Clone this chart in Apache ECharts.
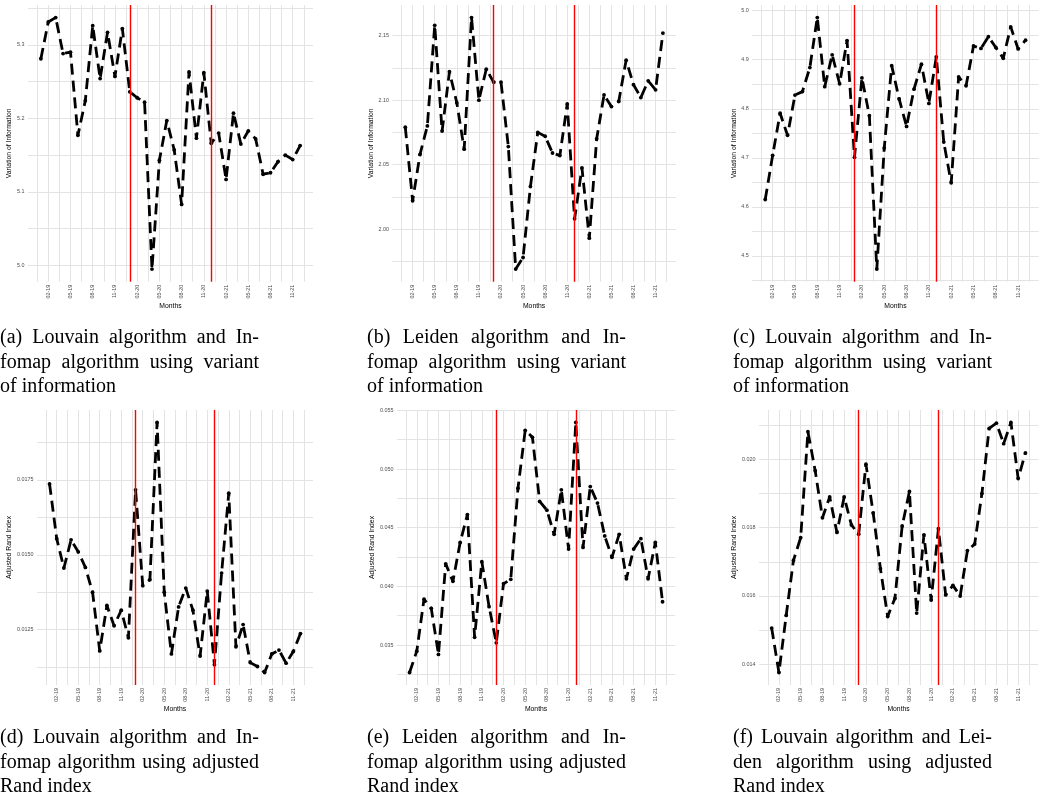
<!DOCTYPE html>
<html>
<head>
<meta charset="utf-8">
<script src="https://cdn.jsdelivr.net/npm/echarts@6/dist/echarts.min.js"></script>
<style>html,body{margin:0;padding:0;background:#fff}#chart{width:1043px;height:809px}</style>
</head>
<body>
<div id="chart"></div>
<script>
// ---------- data ----------
const months = ['2019-01','2019-02','2019-03','2019-04','2019-05','2019-06','2019-07','2019-08','2019-09','2019-10','2019-11','2019-12',
                '2020-01','2020-02','2020-03','2020-04','2020-05','2020-06','2020-07','2020-08','2020-09','2020-10','2020-11','2020-12',
                '2021-01','2021-02','2021-03','2021-04','2021-05','2021-06','2021-07','2021-08','2021-09','2021-10','2021-11','2021-12'];
const tickLabels = ['02-19','05-19','08-19','11-19','02-20','05-20','08-20','11-20','02-21','05-21','08-21','11-21'];
const breakMonths = ['2020-01','2020-12'];

const viLouvainInfomap = [5.281, 5.331, 5.337, 5.288, 5.290, 5.177, 5.224, 5.326, 5.254, 5.317,
  5.257, 5.322, 5.236, 5.228, 5.222, 4.995, 5.143, 5.197, 5.157, 5.083,
  5.263, 5.173, 5.262, 5.166, 5.180, 5.117, 5.207, 5.165, 5.183, 5.172,
  5.124, 5.126, 5.141, 5.150, 5.144, 5.163];
const viLeidenInfomap = [2.079, 2.022, 2.058, 2.080, 2.158, 2.076, 2.122, 2.098, 2.062, 2.164,
  2.100, 2.124, 2.114, 2.114, 2.064, 1.969, 1.978, 2.033, 2.075, 2.072,
  2.059, 2.057, 2.097, 2.008, 2.0475, 1.993, 2.070, 2.104, 2.095, 2.099,
  2.131, 2.112, 2.102, 2.115, 2.108, 2.152];
const viLouvainInfomapC = [4.615, 4.705, 4.791, 4.746, 4.828, 4.835, 4.884, 4.986, 4.845, 4.910,
  4.851, 4.939, 4.701, 4.863, 4.786, 4.473, 4.720, 4.888, 4.820, 4.764,
  4.840, 4.891, 4.811, 4.906, 4.732, 4.649, 4.865, 4.847, 4.928, 4.923,
  4.947, 4.925, 4.903, 4.967, 4.922, 4.940];
const ariLouvainInfomap = [0.01737, 0.01554, 0.01456, 0.01550, 0.01510, 0.01458, 0.01375, 0.01179, 0.01331, 0.01263,
  0.01315, 0.01223, 0.01717, 0.01397, 0.01417, 0.01942, 0.01375, 0.01169, 0.01326, 0.01389,
  0.01315, 0.01162, 0.01379, 0.01133, 0.01439, 0.01706, 0.01193, 0.01267, 0.01140, 0.01127,
  0.01107, 0.01169, 0.01182, 0.01138, 0.01177, 0.01237];
const ariLeidenInfomap = [0.03266, 0.03448, 0.03891, 0.03813, 0.03420, 0.04192, 0.04043, 0.04374, 0.04612, 0.03566,
  0.04211, 0.03827, 0.03519, 0.04023, 0.04060, 0.04837, 0.05330, 0.05271, 0.04724, 0.04650,
  0.04444, 0.04823, 0.04318, 0.05397, 0.04332, 0.04851, 0.04710, 0.04430, 0.04248, 0.04444,
  0.04065, 0.04318, 0.04407, 0.04065, 0.04374, 0.03869];
const ariLouvainLeiden = [0.01506, 0.01376, 0.01543, 0.01704, 0.01771, 0.02081, 0.01967, 0.01829, 0.01890, 0.01786,
  0.01890, 0.01808, 0.01781, 0.01986, 0.01843, 0.01680, 0.01540, 0.01593, 0.01805, 0.01906,
  0.01550, 0.01779, 0.01588, 0.01797, 0.01603, 0.01631, 0.01600, 0.01733, 0.01752, 0.01900,
  0.02091, 0.02106, 0.02046, 0.02108, 0.01944, 0.02019];

const yTitleVI = 'Variation of Information';
const yTitleARI = 'Adjusted Rand Index';
const xTitle = 'Months';

const captions = [
  ['(a) Louvain algorithm and In-', 'fomap algorithm using variant', 'of information'],
  ['(b) Leiden algorithm and In-', 'fomap algorithm using variant', 'of information'],
  ['(c) Louvain algorithm and In-', 'fomap algorithm using variant', 'of information'],
  ['(d) Louvain algorithm and In-', 'fomap algorithm using adjusted', 'Rand index'],
  ['(e) Leiden algorithm and In-', 'fomap algorithm using adjusted', 'Rand index'],
  ['(f) Louvain algorithm and Lei-', 'den algorithm using adjusted', 'Rand index']
];

// ---------- layout / style ----------
const panels = [
  {data: viLouvainInfomap,  yName: yTitleVI,  step: 0.05,    major: 0.1,    dec: 1, left: 27.9,  top: 5,   width: 285.2, height: 276.7, nameGap: 14.5, cap: [0, 338]},
  {data: viLeidenInfomap,   yName: yTitleVI,  step: 0.025,   major: 0.05,   dec: 2, left: 392.4, top: 5,   width: 283.4, height: 276.7, nameGap: 15.6, cap: [367, 338]},
  {data: viLouvainInfomapC, yName: yTitleVI,  step: 0.05,    major: 0.1,    dec: 1, left: 752.2, top: 5,   width: 286.4, height: 276.7, nameGap: 12,   cap: [733, 338]},
  {data: ariLouvainInfomap, yName: yTitleARI, step: 0.00125, major: 0.0025, dec: 4, left: 37,    top: 410, width: 276,   height: 275,   nameGap: 21.5, cap: [0, 738]},
  {data: ariLeidenInfomap,  yName: yTitleARI, step: 0.0025,  major: 0.005,  dec: 3, left: 396.9, top: 410, width: 278.3, height: 275,   nameGap: 20,   cap: [367, 738]},
  {data: ariLouvainLeiden,  yName: yTitleARI, step: 0.001,   major: 0.002,  dec: 3, left: 759,   top: 410, width: 279.1, height: 275,   nameGap: 18.8, cap: [733, 738]}
];
const SANS = 'Liberation Sans';
const CAPTION_FONT = "20px 'Liberation Serif'";
const CAPTION_WIDTH = 259;
const LINE_GAP = 24.3;
const GRID_COLOR = '#e3e3e3';
const TICK_COLOR = '#4d4d4d';

const isMult = (v, s) => Math.abs(v / s - Math.round(v / s)) < 1e-6;
// x position of month i: centred on the month slot so the 1.5-month grid lands on multiples
const xOf = i => i + 0.5;
const xMin = xOf(0) - 0.05 * (months.length - 1);
const xMax = xOf(months.length - 1) + 0.05 * (months.length - 1);
const monthLabel = m => m.slice(5, 7) + '-' + m.slice(2, 4);

const grid = [], xAxis = [], yAxis = [], series = [];
panels.forEach((p, k) => {
  grid.push({left: p.left, top: p.top, width: p.width, height: p.height, containLabel: false, outerBoundsMode: 'none'});
  xAxis.push({
    type: 'value', gridIndex: k, min: xMin, max: xMax, minInterval: 1.5, maxInterval: 1.5,
    axisLine: {show: false}, axisTick: {show: false},
    splitLine: {show: true, showMinLine: false, showMaxLine: false, lineStyle: {color: GRID_COLOR, width: 1}},
    axisLabel: {
      rotate: 90, margin: 3, fontSize: 5.4, color: TICK_COLOR, fontFamily: SANS,
      showMinLabel: false, showMaxLabel: false,
      formatter: v => {
        const idx = Math.round(v - 0.5);
        if (Math.abs(v - 0.5 - idx) > 1e-6 || idx < 0 || idx >= months.length) return '';
        const lab = monthLabel(months[idx]);
        return tickLabels.includes(lab) ? lab : '';
      }
    },
    name: xTitle, nameLocation: 'middle', nameGap: 21,
    nameTextStyle: {fontSize: 6.8, color: '#000', fontFamily: SANS}
  });
  yAxis.push({
    type: 'value', gridIndex: k,
    min: v => v.min - 0.05 * (v.max - v.min),
    max: v => v.max + 0.05 * (v.max - v.min),
    minInterval: p.step, maxInterval: p.step,
    axisLine: {show: false}, axisTick: {show: false},
    splitLine: {show: true, showMinLine: false, showMaxLine: false, lineStyle: {color: GRID_COLOR, width: 1}},
    axisLabel: {
      margin: 3.5, fontSize: 5.4, color: TICK_COLOR, fontFamily: SANS,
      showMinLabel: false, showMaxLabel: false,
      formatter: v => isMult(v, p.major) ? v.toFixed(p.dec) : ''
    },
    name: p.yName, nameLocation: 'middle', nameRotate: 90, nameGap: p.nameGap,
    nameTextStyle: {fontSize: 6.8, color: '#000', fontFamily: SANS}
  });
  series.push({
    type: 'line', xAxisIndex: k, yAxisIndex: k,
    data: p.data.map((v, i) => [xOf(i), v]),
    symbol: 'circle', symbolSize: 3.8, showSymbol: true,
    itemStyle: {color: '#000'},
    lineStyle: {color: '#000', width: 2.8, type: [11, 6], cap: 'butt'},
    silent: true, z: 3,
    markLine: {
      silent: true, symbol: ['none', 'none'], label: {show: false}, z: 4,
      lineStyle: {color: '#ff0000', width: 1.4, type: 'solid'},
      emphasis: {disabled: true},
      data: breakMonths.map(m => ({xAxis: xOf(months.indexOf(m))}))
    }
  });
});

// ---------- captions (justified like the LaTeX subcaptions) ----------
const ctx = document.createElement('canvas').getContext('2d');
ctx.font = CAPTION_FONT;
const graphic = [];
captions.forEach((lines, k) => {
  const [x0, y0] = panels[k].cap;
  lines.forEach((line, j) => {
    const y = y0 + j * LINE_GAP;
    const words = line.split(' ');
    const widths = words.map(w => ctx.measureText(w).width);
    const total = widths.reduce((a, b) => a + b, 0);
    const justify = j < lines.length - 1 && words.length > 1;
    const gap = justify ? (CAPTION_WIDTH - total) / (words.length - 1) : ctx.measureText(' ').width;
    let x = x0;
    words.forEach((w, q) => {
      graphic.push({type: 'text', x: x, y: y, silent: true,
        style: {text: w, font: CAPTION_FONT, fill: '#000', textAlign: 'left', textVerticalAlign: 'middle', verticalAlign: 'middle'}});
      x += widths[q] + gap;
    });
  });
});

const chart = echarts.init(document.getElementById('chart'), null, {renderer: 'canvas'});
chart.setOption({animation: false, backgroundColor: '#fff', grid, xAxis, yAxis, series, graphic});
</script>
</body>
</html>
